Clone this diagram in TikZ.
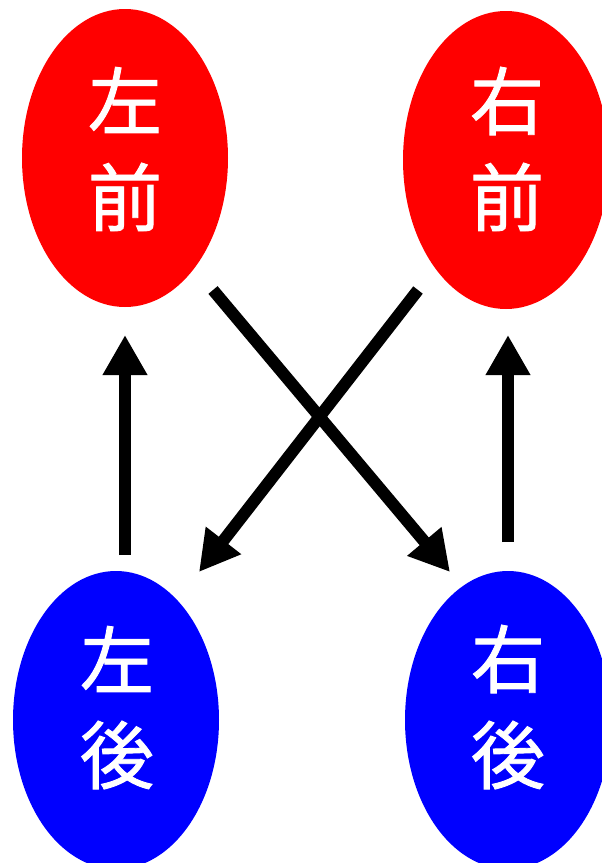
\documentclass[tikz,border=0pt]{standalone}
\usepackage{fontspec}
\newfontfamily\cjk[UprightFeatures={FakeBold=1.2}]{Noto Sans CJK JP}
\usetikzlibrary{shapes.geometric,arrows.meta}
\begin{document}
\begin{tikzpicture}[x=1pt,y=-1pt,
  blob/.style={ellipse,minimum width=206pt,minimum height=298pt,inner sep=0pt,draw=none},
  front/.style={blob,fill=red},
  back/.style={blob,fill=blue},
  glyph/.style={text=white,font=\cjk\fontsize{74}{74}\selectfont,inner sep=0pt},
  arr/.style={line width=12pt,-{Triangle[length=40pt,width=42pt]}}]
\useasboundingbox (0,0) rectangle (602,863);
\clip (0,0) rectangle (602,863);
\fill[white] (0,0) rectangle (602,863);
\node[front] (lf) at (125,158) {};
\node[front] (rf) at (506,160) {};
\node[back] (lb) at (116,720) {};
\node[back] (rb) at (508,720) {};
\node[glyph] (lf1) at (125,100) {左};
\node[glyph] (lf2) at (125,197) {前};
\node[glyph] (rf1) at (507,101) {右};
\node[glyph] (rf2) at (507,197) {前};
\node[glyph] (lb1) at (117,659) {左};
\node[glyph] (lb2) at (117,755) {後};
\node[glyph] (rb1) at (508,659) {右};
\node[glyph] (rb2) at (508,755) {後};
\coordinate (a1s) at (125,555);
\coordinate (a1e) at (125,335);
\coordinate (a2s) at (508,542);
\coordinate (a2e) at (508,335);
\coordinate (a3s) at (213,290);
\coordinate (a3e) at (450,572);
\coordinate (a4s) at (418,290);
\coordinate (a4e) at (199,572);
\draw[arr] (a1s) -- (a1e);
\draw[arr] (a2s) -- (a2e);
\draw[arr] (a3s) -- (a3e);
\draw[arr] (a4s) -- (a4e);
\end{tikzpicture}
\end{document}
